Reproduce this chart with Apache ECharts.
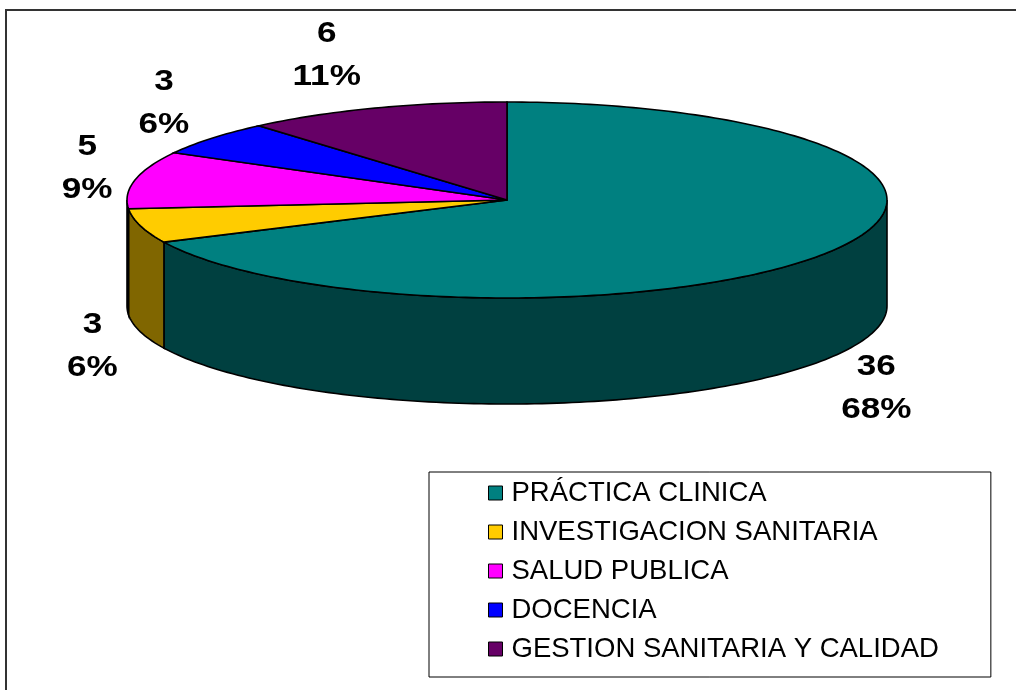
<!DOCTYPE html>
<html>
<head>
<meta charset="UTF-8">
<script src="https://cdn.jsdelivr.net/npm/echarts@6/dist/echarts.min.js"></script>
<title>Pie 3D</title>
<style>
body { margin: 0; background: #fff; }
#main { width: 1016px; height: 690px; }
</style>
</head>
<body>
<div id="main"></div>
<script type="text/javascript">
// datos
var categories = ['PRÁCTICA CLINICA', 'INVESTIGACION SANITARIA', 'SALUD PUBLICA', 'DOCENCIA', 'GESTION SANITARIA Y CALIDAD'];
var values = [36, 3, 5, 3, 6];
var topColors = ['#008080', '#ffcc00', '#ff00ff', '#0000ff', '#660066'];
var sideColors = ['#004040', '#806600', '#800080', '#000080', '#330033'];

var total = 0;
var starts = [];
for (var k = 0; k < values.length; k++) {
    starts.push(total);
    total += values[k];
}

// geometria del pastel (elipse + grosor)
var pie = { cx: 507, cy: 200, rx: 380, ry: 98, depth: 106 };
var PI = Math.PI;

function pt(a, dy) {
    return [pie.cx + pie.rx * Math.sin(a), pie.cy - pie.ry * Math.cos(a) + (dy || 0)];
}
function arc(a0, a1, dy) {
    var n = Math.max(2, Math.ceil((a1 - a0) / 0.02));
    var pts = [];
    for (var i = 0; i <= n; i++) {
        pts.push(pt(a0 + (a1 - a0) * i / n, dy));
    }
    return pts;
}

function makeRender(idx) {
    return function (params, api) {
        var v = api.value(0);
        var a0 = starts[idx] / total * 2 * PI;
        var a1 = (starts[idx] + v) / total * 2 * PI;
        var children = [];
        // pared frontal visible
        var b0 = Math.max(a0, PI / 2), b1 = Math.min(a1, 3 * PI / 2);
        if (b1 > b0) {
            var side = arc(b0, b1, 0).concat(arc(b0, b1, pie.depth).reverse());
            children.push({
                type: 'polygon', z2: 1,
                shape: { points: side },
                style: { fill: sideColors[idx], stroke: '#000', lineWidth: 1.6 }
            });
        }
        // cara superior
        var top = [[pie.cx, pie.cy]].concat(arc(a0, a1, 0));
        children.push({
            type: 'polygon', z2: 10,
            shape: { points: top },
            style: { fill: topColors[idx], stroke: '#000', lineWidth: 1.6 }
        });
        // etiqueta junto al borde
        var am = (a0 + a1) / 2;
        var edge = pt(am, Math.cos(am) < 0 ? pie.depth : 0);
        var lx = edge[0] + (Math.sin(am) < 0 ? -48 : 48);
        var ly = edge[1] - 56 * Math.cos(am);
        var pct = Math.round(v / total * 100);
        children.push({
            type: 'text', z2: 20, x: lx, y: ly, scaleX: 1.17,
            style: {
                text: v + '\n' + pct + '%',
                fill: '#000',
                fontSize: 30,
                fontWeight: 'bold',
                fontFamily: 'Liberation Sans, Arial, sans-serif',
                lineHeight: 43,
                align: 'center',
                verticalAlign: 'middle'
            }
        });
        return { type: 'group', children: children };
    };
}

var series = [];
for (var i = 0; i < categories.length; i++) {
    series.push({
        name: categories[i],
        type: 'custom',
        coordinateSystem: 'none',
        itemStyle: { color: topColors[i] },
        renderItem: makeRender(i),
        data: [[values[i]]],
        silent: true
    });
}

var myChart = echarts.init(document.getElementById('main'));
myChart.setOption({
    animation: false,
    color: topColors,
    graphic: [{
        type: 'rect',
        shape: { x: 6, y: 10, width: 1100, height: 800 },
        style: { fill: 'none', stroke: '#333', lineWidth: 2 },
        silent: true
    }],
    legend: {
        orient: 'vertical',
        left: 429,
        top: 472,
        padding: [7, 52, 14, 59],
        itemGap: 11,
        itemWidth: 14,
        itemHeight: 14,
        icon: 'rect',
        selectedMode: false,
        backgroundColor: '#fff',
        borderColor: '#000',
        borderWidth: 1,
        itemStyle: { borderColor: '#000', borderWidth: 1 },
        textStyle: {
            color: '#000',
            fontSize: 27.5,
            lineHeight: 28,
            fontFamily: 'Liberation Sans, Arial, sans-serif',
            padding: [0, 0, 0, 4]
        },
        data: categories
    },
    series: series
});
</script>
</body>
</html>
